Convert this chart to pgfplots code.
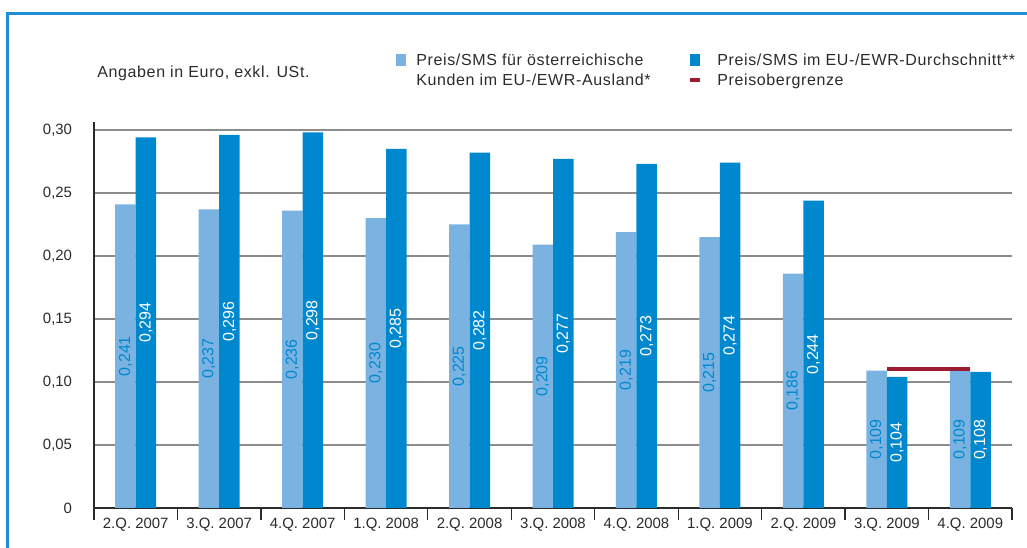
\documentclass[border=0pt]{standalone}
\usepackage{fontspec}
\setmainfont{Liberation Sans}
\newfontfamily\widefont{Liberation Sans}[LetterSpace=4]
\usepackage{pgfplots}
\pgfplotsset{compat=1.18}
\usepackage{pgfplotstable}

\definecolor{hell}{HTML}{7AB3E2}
\definecolor{dunkel}{HTML}{0088CF}
\definecolor{grenze}{HTML}{9C1B2E}
\definecolor{gitter}{HTML}{8C8C8C}
\definecolor{rahmen}{HTML}{1E8FD6}
\definecolor{schrift}{HTML}{2B2B2B}

% Preis/SMS in Euro
\pgfplotstableread{
x  aut    eu
0  0.241  0.294
1  0.237  0.296
2  0.236  0.298
3  0.230  0.285
4  0.225  0.282
5  0.209  0.277
6  0.219  0.273
7  0.215  0.274
8  0.186  0.244
9  0.109  0.104
10 0.109  0.108
}\sms

\begin{document}
\begin{tikzpicture}[x=0.75pt, y=0.75pt]
\useasboundingbox (0,0) rectangle (1027,548);
\draw[rahmen, line width=2.25pt] (7.5,0) -- (7.5,534.5) -- (1027,534.5);

\node[anchor=base west, inner sep=0pt, text=schrift, font=\widefont\fontsize{12}{14}\selectfont]
  at (97,470.25) {Angaben in Euro, exkl. USt.};

% Legende
\begin{scope}[every node/.style={anchor=base west, inner sep=0pt, text=schrift, font=\widefont\fontsize{12}{14}\selectfont}]
\fill[hell] (396,482) rectangle (406,494);
\node at (416,482.25) {Preis/SMS für österreichische};
\node at (416,462.25) {Kunden im EU-/EWR-Ausland*};
\fill[dunkel] (690,482) rectangle (700,494);
\node at (717,482.25) {Preis/SMS im EU-/EWR-Durchschnitt**};
\draw[grenze, line width=3pt] (690,468) -- (700,468);
\node at (717,462.25) {Preisobergrenze};
\end{scope}

\begin{axis}[
  at={(70.5pt,30pt)}, anchor=south west,
  scale only axis, width=688.5pt, height=289.5pt,
  xmin=-0.5, xmax=10.5, ymin=0, ymax=0.3063,
  axis lines*=left,
  axis line style={-, draw=schrift, line width=1.1pt},
  tick align=outside,
  xtick={0,...,10},
  xticklabels={2.Q. 2007, 3.Q. 2007, 4.Q. 2007, 1.Q. 2008, 2.Q. 2008, 3.Q. 2008,
    4.Q. 2008, 1.Q. 2009, 2.Q. 2009, 3.Q. 2009, 4.Q. 2009},
  minor xtick={-0.5,0.5,...,10.5},
  major x tick style={draw=none},
  minor x tick style={draw=schrift, line width=1pt},
  minor tick length=9pt,
  ytick={0,0.05,0.1,0.15,0.2,0.25,0.3},
  yticklabels={0,{0,05},{0,10},{0,15},{0,20},{0,25},{0,30}},
  ytick style={draw=none},
  ymajorgrids,
  major grid style={gitter, line width=1.5pt},
  tick label style={font=\fontsize{11.2}{13}\selectfont, text=schrift},
  xticklabel style={anchor=north, inner sep=0pt, yshift=-3pt},
  yticklabel style={anchor=east, inner sep=0pt, xshift=-12pt},
  clip=false,
]
\addplot[ybar, fill=hell, draw=none, bar width=15.38pt, bar shift=-7.69pt,
  nodes near coords={\pgfmathprintnumber[fixed,fixed zerofill,precision=3,use comma,assume math mode=true]{\pgfplotspointmeta}},
  visualization depends on={rawy \as \wert},
  nodes near coords style={xshift=-7.69pt, yshift={-\wert*472.6pt}, anchor=center, rotate=90,
    inner sep=0pt, text=dunkel, font=\fontsize{12}{14}\selectfont}]
  table[x=x, y=aut] {\sms};
\addplot[ybar, fill=dunkel, draw=none, bar width=15.38pt, bar shift=7.69pt,
  nodes near coords={\pgfmathprintnumber[fixed,fixed zerofill,precision=3,use comma,assume math mode=true]{\pgfplotspointmeta}},
  visualization depends on={rawy \as \wert},
  nodes near coords style={xshift=7.69pt, yshift={-\wert*472.6pt}, anchor=center, rotate=90,
    inner sep=0pt, text=white, font=\fontsize{12}{14}\selectfont}]
  table[x=x, y=eu] {\sms};
% Preisobergrenze
\addplot[grenze, line width=3pt] coordinates {(9,0.11) (10,0.11)};
\end{axis}
\end{tikzpicture}
\end{document}
